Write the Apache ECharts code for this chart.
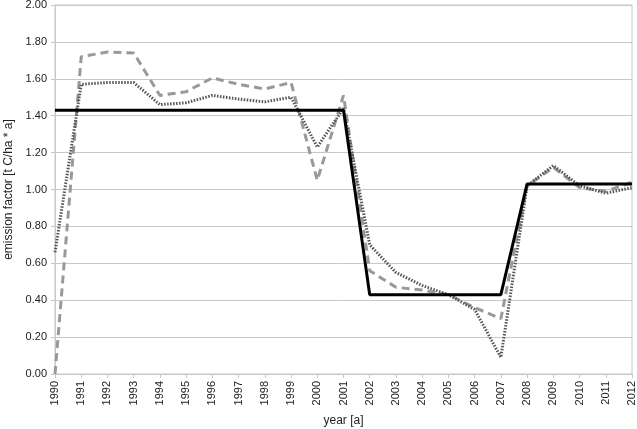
<!DOCTYPE html>
<html><head><meta charset="utf-8">
<script src="https://cdn.jsdelivr.net/npm/echarts@6/dist/echarts.min.js"></script>
<style>html,body{margin:0;padding:0;background:#fff}#c{width:637px;height:429px}</style>
</head><body><div id="c"></div>
<script>
const years = ['1990','1991','1992','1993','1994','1995','1996','1997','1998','1999','2000','2001','2002','2003','2004','2005','2006','2007','2008','2009','2010','2011','2012'];
const solidSeries = [1.43,1.43,1.43,1.43,1.43,1.43,1.43,1.43,1.43,1.43,1.43,1.43,0.43,0.43,0.43,0.43,0.43,0.43,1.03,1.03,1.03,1.03,1.03];
const dashedSeries = [0.00,1.72,1.745,1.74,1.51,1.53,1.605,1.57,1.545,1.58,1.05,1.51,0.56,0.47,0.455,0.43,0.36,0.30,1.02,1.12,1.01,0.99,1.04];
const dottedSeries = [0.66,1.57,1.58,1.58,1.46,1.47,1.51,1.49,1.475,1.50,1.23,1.44,0.70,0.55,0.48,0.43,0.35,0.09,1.02,1.13,1.02,0.98,1.01];
const yTicks = {min:0, max:2, interval:0.2};

const chart = echarts.init(document.getElementById('c'));
const font = 'Liberation Sans';
chart.setOption({
  animation:false,
  grid:{left:55,right:5,top:5,bottom:55,containLabel:false,outerBoundsMode:'none',show:true,borderColor:'#c8c8c8',borderWidth:1},
  xAxis:{type:'category',data:years,boundaryGap:false,
    name:'year [a]',nameLocation:'middle',nameGap:41,
    nameTextStyle:{fontFamily:font,fontSize:12,color:'#222'},
    axisLine:{lineStyle:{color:'#c8c8c8'}},
    axisTick:{show:true,length:4,lineStyle:{color:'#c8c8c8'}},
    axisLabel:{rotate:90,fontFamily:font,fontSize:11,color:'#222',margin:7,interval:0},
    splitLine:{show:false}},
  yAxis:{type:'value',min:yTicks.min,max:yTicks.max,interval:yTicks.interval,
    name:'emission factor [t C/ha * a]',nameLocation:'middle',nameGap:39,
    nameTextStyle:{fontFamily:font,fontSize:12,color:'#222'},
    axisLine:{show:true,lineStyle:{color:'#c8c8c8'}},
    axisTick:{show:true,length:4,lineStyle:{color:'#c8c8c8'}},
    axisLabel:{fontFamily:font,fontSize:11,color:'#222',margin:8,formatter:v=>v.toFixed(2)},
    splitLine:{lineStyle:{color:'#c8c8c8',width:1}}},
  series:[
    {type:'line',data:dashedSeries,symbol:'none',lineStyle:{color:'#999999',width:3,type:[8,5]}},
    {type:'line',data:dottedSeries,symbol:'none',lineStyle:{color:'#555555',width:3,type:[1.5,1.5]}},
    {type:'line',data:solidSeries,symbol:'none',lineStyle:{color:'#000000',width:3}}
  ]
});
</script></body></html>
